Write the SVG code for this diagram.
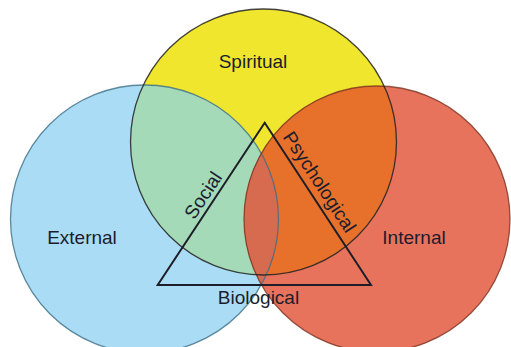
<svg xmlns="http://www.w3.org/2000/svg" width="511" height="347" viewBox="0 0 511 347">
<style>
.lbl{font-family:"Liberation Sans",Arial,sans-serif;font-size:19px;fill:#1a1d2e;text-anchor:middle}
.ol{fill:none;stroke-width:1.3}
</style>
<defs>
<clipPath id="cy"><circle cx="263.5" cy="142" r="133"/></clipPath>
<clipPath id="cb"><circle cx="144.5" cy="219" r="134"/></clipPath>
</defs>
<rect width="511" height="347" fill="#ffffff"/>
<g id="spiritual">
<circle cx="263.5" cy="142" r="133" fill="#F1E62E"/>
</g>
<g id="external">
<circle cx="144.5" cy="219" r="134" fill="#AADCF6"/>
</g>
<g id="internal">
<circle cx="377" cy="219" r="133" fill="#E8735C"/>
</g>
<g id="overlaps">
<circle cx="144.5" cy="219" r="134" fill="#A5DAB8" clip-path="url(#cy)"/>
<circle cx="377" cy="219" r="133" fill="#E7712A" clip-path="url(#cy)"/>
<g clip-path="url(#cb)"><circle cx="377" cy="219" r="133" fill="#D46C55"/></g>
<g clip-path="url(#cy)"><g clip-path="url(#cb)"><circle cx="377" cy="219" r="133" fill="#D66B50"/></g></g>
</g>
<g id="outlines">
<circle class="ol" cx="144.5" cy="219" r="134" stroke="#3d6f86" stroke-opacity="0.8"/>
<circle class="ol" cx="377" cy="219" r="133" stroke="#7a3322" stroke-opacity="0.8"/>
<circle class="ol" cx="263.5" cy="142" r="133" stroke="#222" stroke-opacity="0.85"/>
</g>
<g id="triangle">
<polygon points="264.7,122.7 157.7,285 371,285" fill="none" stroke="#1e1e28" stroke-width="2"/>
</g>
<g id="labels">
<text class="lbl" x="253" y="68">Spiritual</text>
<text class="lbl" x="82" y="244">External</text>
<text class="lbl" x="414" y="244">Internal</text>
<text class="lbl" x="258.5" y="304">Biological</text>
<text class="lbl" transform="translate(208.6,198.8) rotate(-56.6)">Social</text>
<text class="lbl" transform="translate(314.2,185.5) rotate(56.6)">Psychological</text>
</g>
</svg>
